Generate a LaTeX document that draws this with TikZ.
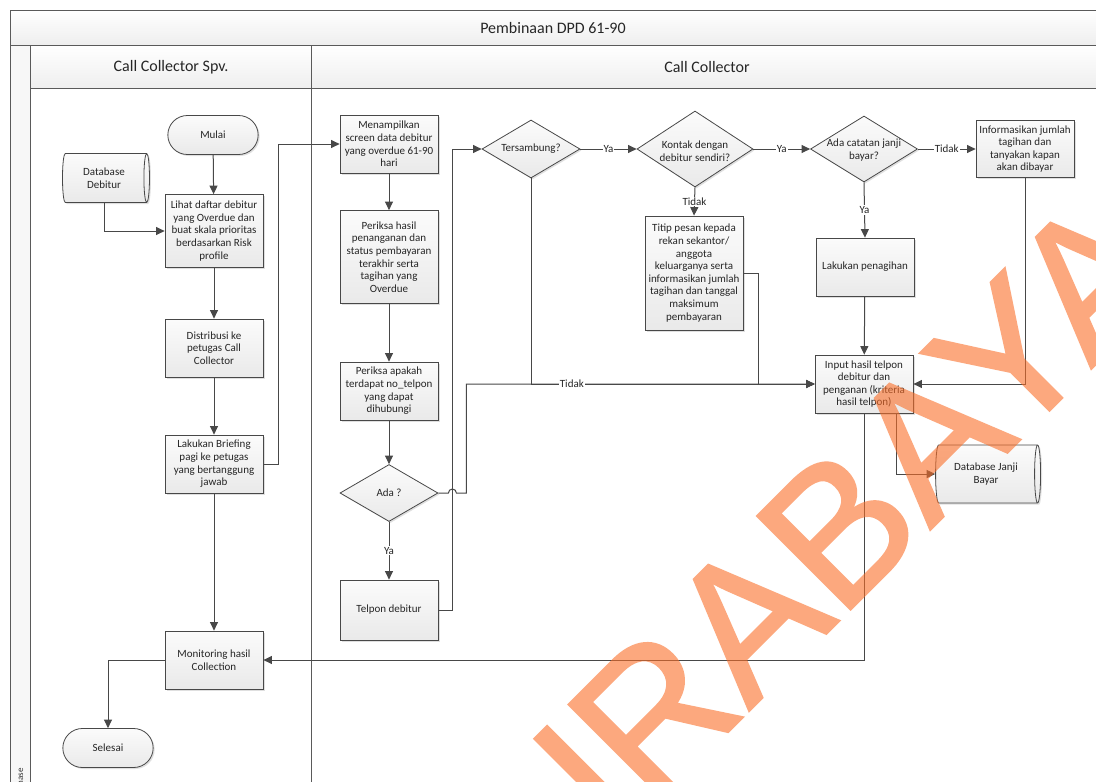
\documentclass[tikz,border=0pt]{standalone}
\usepackage{fontspec}
\setmainfont{Carlito}
\newfontfamily\wmfont[FakeBold=1.2]{Liberation Sans}
\usetikzlibrary{shapes.geometric,shapes.misc,arrows.meta,shadows,calc}

\definecolor{linec}{RGB}{72,72,72}
\definecolor{framec}{RGB}{90,90,90}
\definecolor{wmorange}{RGB}{250,110,40}
\newcommand\boxfont{\fontsize{11}{12.6}\selectfont}
\newcommand\headfont{\fontsize{16}{18}\selectfont}

\begin{document}
\begin{tikzpicture}[x=1pt,y=-1pt,
  frame/.style={draw=framec, line width=0.9pt},
  line/.style={draw=linec, line width=1pt},
  arr/.style={line, -{Triangle[length=8.5pt,width=8pt]}},
  lbl/.style={fill=white, inner sep=1pt, font=\boxfont, text=black!85},
  shade3d/.style={top color=gray!3, bottom color=gray!17,
    drop shadow={shadow xshift=1.5pt, shadow yshift=-1.5pt, opacity=0.25}},
  box/.style={rectangle, draw=linec, line width=0.8pt, shade3d,
    align=center, font=\boxfont, text=black!85, inner sep=1.5pt,
    minimum width=98pt},
  term/.style={rounded rectangle, draw=linec, line width=0.8pt, shade3d,
    font=\boxfont, text=black!85, minimum width=97pt, minimum height=39pt},
  dia/.style={diamond, draw=linec, line width=0.8pt, shade3d, inner sep=0pt},
  dtext/.style={align=center, font=\boxfont, text=black!85, inner sep=0pt},
  % a lying cylinder: minimum height is its length, minimum width its thickness
  db/.style={cylinder, draw=linec, line width=0.8pt, shade3d, aspect=0.25,
    align=center, font=\boxfont, text=black!85, inner sep=1pt},
  head/.style={font=\headfont, text=black!85}
]
\useasboundingbox (0,0) rectangle (1096,782);
\clip (0,0) rectangle (1096,782);
\fill[white] (0,0) rectangle (1096,782);

% ---- swimlane frame ----
\shade[top color=white, bottom color=gray!13] (10,10) rectangle (1103,45);
\shade[top color=white, bottom color=gray!13] (30,45) rectangle (1103,88);
\fill[gray!6] (10,45) rectangle (30,800);
\draw[frame] (10,10) rectangle (1103,800);
\draw[frame] (10,45) -- (1103,45);
\draw[frame] (30,45) -- (30,800);
\draw[frame] (30,88) -- (1103,88);
\draw[frame] (311,45) -- (311,800);

\node[head] (title) at (553,28) {Pembinaan DPD 61-90};
\node[head] (laneA) at (171,67) {Call Collector Spv.};
\node[head] (laneB) at (707,67) {Call Collector};
\node[font=\fontsize{9}{10}\selectfont, text=black!80, rotate=90] (phase) at (20,779) {Phase};

% ---- Call Collector Spv. lane ----
\node[term] (mulai) at (213,135) {Mulai};
\node[db, minimum width=49pt, minimum height=87pt] (dbdeb) at (104,178) {Database\\Debitur};
\node[box, minimum height=73pt] (lihat) at (214,231) {Lihat daftar debitur\\yang Overdue dan\\buat skala prioritas\\berdasarkan Risk\\profile};
\node[box, minimum height=58pt] (distrib) at (214,348) {Distribusi ke\\petugas Call\\Collector};
\node[box, minimum height=58pt] (brief) at (214,464) {Lakukan Briefing\\pagi ke petugas\\yang bertanggung\\jawab};
\node[box, minimum height=58pt] (monit) at (214,660) {Monitoring hasil\\Collection};
\node[term] (selesai) at (108,748) {Selesai};

% ---- Call Collector lane ----
\node[box, minimum height=58pt] (menamp) at (389,144) {Menampilkan\\screen data debitur\\yang overdue 61-90\\hari};
\node[box, minimum height=93pt] (periksa1) at (389,257) {Periksa hasil\\penanganan dan\\status pembayaran\\terakhir serta\\tagihan yang\\Overdue};
\node[box, minimum height=58pt] (periksa2) at (389,391) {Periksa apakah\\terdapat no\_telpon\\yang dapat\\dihubungi};
\node[dia, minimum width=98pt, minimum height=57pt] (ada) at (389,493) {};
\node[dtext] (adat) at (ada) {Ada ?};
\node[box, minimum height=60pt] (telpon) at (389,610) {Telpon debitur};

\node[dia, minimum width=98pt, minimum height=58pt] (ters) at (531,149) {};
\node[dtext] (terst) at (ters) {Tersambung?};
\node[dia, minimum width=116pt, minimum height=76pt] (kontak) at (695,149) {};
\node[dtext] (kontakt) at (695,151) {Kontak dengan\\debitur sendiri?};
\node[box, minimum height=114pt] (titip) at (694,273) {Titip pesan kepada\\rekan sekantor/\\anggota\\keluarganya serta\\informasikan jumlah\\tagihan dan tanggal\\maksimum\\pembayaran};
\node[dia, minimum width=107pt, minimum height=66pt] (adacat) at (864,149) {};
\node[dtext] (adacatt) at (864,150) {Ada catatan janji\\bayar?};
\node[box, minimum height=57pt] (info) at (1025,149) {Informasikan jumlah\\tagihan dan\\tanyakan kapan\\akan dibayar};
\node[box, minimum height=58pt] (tagih) at (865,267) {Lakukan penagihan};
\node[box, minimum height=58pt] (input) at (864,384) {Input hasil telpon\\debitur dan\\penganan (kriteria\\hasil telpon)};
\node[db, minimum width=58pt, minimum height=105pt] (dbjanji) at (986,474) {Database Janji\\Bayar};

% ---- connectors: supervisor lane ----
\draw[arr] (mulai) -- (lihat);
\draw[arr] (dbdeb.south) |- (lihat.west);
\draw[arr] (lihat) -- (distrib);
\draw[arr] (distrib) -- (brief);
\draw[arr] (brief) -- (monit);
\draw[arr] (brief.east) -- ++(15,0) |- (menamp.west);
\draw[arr] (monit.west) -| (selesai.north);

% ---- connectors: collector lane ----
\draw[arr] (menamp) -- (periksa1);
\draw[arr] (periksa1) -- (periksa2);
\draw[arr] (periksa2) -- (ada);
\draw[arr] (ada.south) -- node[lbl] {Ya} (telpon.north);
\draw[arr] (telpon.east) -- ++(14,0) |- (ters.west);
\draw[arr] (ada.east) -- ++(10,0) arc[start angle=180, end angle=0, radius=4pt] -- ++(10,0) |- (input.west);
\draw[arr] (ters.south) |- node[lbl, pos=0.572] {Tidak} (input.west);
\draw[arr] (ters.east) -- node[lbl] {Ya} (kontak.west);
\draw[arr] (kontak.south) -- node[lbl] {Tidak} (titip.north);
\draw[arr] (kontak.east) -- node[lbl] {Ya} (adacat.west);
\draw[arr] (adacat.east) -- node[lbl] {Tidak} (info.west);
\draw[arr] (adacat.south) -- node[lbl] {Ya} (tagih.north);
\draw[arr] (tagih) -- (input);
\draw[arr] (titip.east) -- ++(15,0) |- (input.west);
\draw[arr] (info.south) |- (input.east);
\draw[arr] (input.south) |- (monit.east);
\draw[arr] ($(input.south)+(32,0)$) |- (dbjanji.west);

% ---- watermark, laid over the chart as one translucent layer ----
\begin{scope}[transparency group, opacity=0.6]
\node[font=\wmfont\fontsize{192}{192}\selectfont, text=wmorange,
  rotate=45, anchor=base, inner sep=0pt] (wm) at (822,638) {SURABAYA};
\end{scope}
\end{tikzpicture}
\end{document}
